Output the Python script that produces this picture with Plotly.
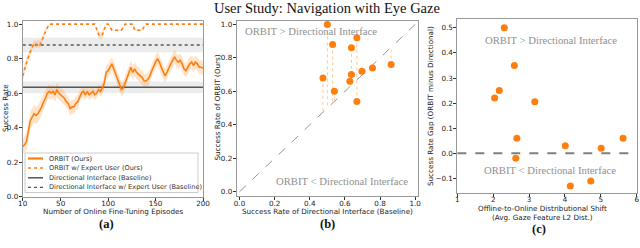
import plotly.graph_objects as go

W, H = 640, 248
ORANGE = "#ff7f0e"
ORANGE_BAND = "rgba(255,127,14,0.22)"
GRAY = "#555555"
GRAY_BAND = "rgba(200,200,200,0.35)"
SANS = "DejaVu Sans"
SERIF = "Liberation Serif"

# ---------------- data (a) ----------------
episodes = [10, 12, 14, 16, 18, 20, 22, 24, 26, 28,
            30, 32, 34, 36, 38, 40, 42, 44, 46, 48,
            50, 52, 54, 56, 58, 60, 62, 64, 66, 68,
            70, 72, 74, 76, 78, 80, 82, 84, 86, 88,
            90, 92, 94, 96, 98, 100, 102, 104, 106, 108,
            110, 112, 114, 116, 118, 120, 122, 124, 126, 128,
            130, 132, 134, 136, 138, 140, 142, 144, 146, 148,
            150, 152, 154, 156, 158, 160, 162, 164, 166, 168,
            170, 172, 174, 176, 178, 180, 182, 184, 186, 188,
            190, 192, 194, 196, 198, 200]
orbit_mean = [0.29, 0.30, 0.32, 0.38, 0.44, 0.46, 0.48, 0.47, 0.48, 0.50,
              0.52, 0.55, 0.57, 0.60, 0.61, 0.60, 0.61, 0.59, 0.62, 0.60,
              0.59, 0.58, 0.57, 0.55, 0.54, 0.51, 0.52, 0.52, 0.54, 0.55,
              0.58, 0.60, 0.61, 0.59, 0.61, 0.59, 0.60, 0.61, 0.59, 0.60,
              0.62, 0.61, 0.63, 0.66, 0.72, 0.73, 0.75, 0.77, 0.74, 0.71,
              0.68, 0.65, 0.62, 0.63, 0.66, 0.70, 0.73, 0.75, 0.72, 0.74,
              0.72, 0.71, 0.70, 0.69, 0.67, 0.67, 0.68, 0.70, 0.73, 0.76,
              0.78, 0.80, 0.78, 0.75, 0.72, 0.70, 0.72, 0.75, 0.77, 0.79,
              0.81, 0.79, 0.78, 0.79, 0.77, 0.74, 0.73, 0.75, 0.77, 0.78,
              0.76, 0.78, 0.77, 0.75, 0.75, 0.745]
orbit_std = [0.04, 0.05, 0.05, 0.05, 0.05, 0.05, 0.05, 0.05, 0.05, 0.05,
             0.05, 0.05, 0.04, 0.04, 0.04, 0.04, 0.04, 0.04, 0.04, 0.04,
             0.04, 0.04, 0.04, 0.04, 0.04, 0.04, 0.04, 0.04, 0.04, 0.04,
             0.03, 0.03, 0.03, 0.03, 0.03, 0.03, 0.03, 0.03, 0.03, 0.03,
             0.03, 0.03, 0.03, 0.04, 0.04, 0.04, 0.04, 0.04, 0.04, 0.04,
             0.04, 0.04, 0.04, 0.04, 0.04, 0.04, 0.04, 0.04, 0.04, 0.04,
             0.04, 0.04, 0.04, 0.04, 0.04, 0.04, 0.04, 0.04, 0.04, 0.04,
             0.04, 0.04, 0.04, 0.04, 0.04, 0.04, 0.04, 0.04, 0.04, 0.04,
             0.04, 0.04, 0.04, 0.04, 0.04, 0.04, 0.04, 0.04, 0.04, 0.04,
             0.04, 0.04, 0.04, 0.04, 0.04, 0.04]
expert_mean = [0.70, 0.74, 0.78, 0.81, 0.84, 0.87, 0.89, 0.88, 0.89, 0.88,
               0.90, 0.93, 0.96, 0.98, 1.0, 1.0, 1.0, 1.0, 1.0, 1.0,
               1.0, 1.0, 1.0, 1.0, 1.0, 1.0, 1.0, 1.0, 1.0, 1.0,
               1.0, 1.0, 1.0, 1.0, 1.0, 1.0, 1.0, 1.0, 1.0, 0.97,
               0.94, 0.93, 0.94, 0.97, 1.0, 1.0, 0.98, 0.965, 0.965, 0.965,
               0.965, 0.965, 0.965, 0.98, 1.0, 1.0, 1.0, 1.0, 1.0, 0.965,
               0.965, 0.965, 0.965, 0.965, 0.985, 1.0, 1.0, 1.0, 1.0, 1.0,
               1.0, 1.0, 1.0, 1.0, 1.0, 1.0, 1.0, 1.0, 1.0, 1.0,
               1.0, 1.0, 1.0, 1.0, 1.0, 1.0, 1.0, 1.0, 1.0, 1.0,
               1.0, 1.0, 1.0, 1.0, 1.0, 1.0]
expert_std = [0.03, 0.03, 0.03, 0.02, 0.02, 0.02, 0.02, 0.02, 0.02, 0.02,
              0.02, 0.02, 0.01, 0.01, 0.0, 0.0, 0.0, 0.0, 0.0, 0.0,
              0.0, 0.0, 0.0, 0.0, 0.0, 0.0, 0.0, 0.0, 0.0, 0.0,
              0.0, 0.0, 0.0, 0.0, 0.0, 0.0, 0.0, 0.0, 0.0, 0.01,
              0.02, 0.02, 0.02, 0.01, 0.0, 0.0, 0.005, 0.005, 0.005, 0.005,
              0.005, 0.005, 0.005, 0.005, 0.0, 0.0, 0.0, 0.0, 0.0, 0.005,
              0.005, 0.005, 0.005, 0.005, 0.005, 0.0, 0.0, 0.0, 0.0, 0.0,
              0.0, 0.0, 0.0, 0.0, 0.0, 0.0, 0.0, 0.0, 0.0, 0.0,
              0.0, 0.0, 0.0, 0.0, 0.0, 0.0, 0.0, 0.0, 0.0, 0.0,
              0.0, 0.0, 0.0, 0.0, 0.0, 0.0]
baseline_mean, baseline_std = 0.634, 0.033
baseline_expert_mean, baseline_expert_std = 0.879, 0.042

# ---------------- data (b) ----------------
directional_rate = [0.50, 0.475, 0.53, 0.54, 0.637, 0.668, 0.637, 0.628, 0.668, 0.697, 0.757, 0.863]
orbit_rate = [1.00, 0.68, 0.88, 0.60, 0.86, 0.92, 0.70, 0.66, 0.54, 0.72, 0.74, 0.76]

# ---------------- data (c) ----------------
dist_shift = [2.31, 3.16, 2.59, 2.66, 2.04, 2.17, 5.62, 4.01, 4.15, 5.01, 2.63, 4.72]
rate_gap = [0.50, 0.205, 0.35, 0.06, 0.22, 0.25, 0.06, 0.03, -0.13, 0.02, -0.02, -0.11]


def px(x):
    return x / W


def py(y):
    return 1 - y / H


fig = go.Figure()


def band(xs, mean, std, color, xa="x", ya="y"):
    up = [m + s for m, s in zip(mean, std)]
    lo = [m - s for m, s in zip(mean, std)]
    fig.add_trace(go.Scatter(x=xs + xs[::-1], y=up + lo[::-1], fill="toself",
                             fillcolor=color, line=dict(width=0), mode="lines",
                             hoverinfo="skip", showlegend=False, xaxis=xa, yaxis=ya))


xr = [episodes[0], episodes[-1]]
band(xr, [baseline_mean] * 2, [baseline_std] * 2, GRAY_BAND)
band(xr, [baseline_expert_mean] * 2, [baseline_expert_std] * 2, GRAY_BAND)
band(episodes, orbit_mean, orbit_std, ORANGE_BAND)
band(episodes, expert_mean, expert_std, ORANGE_BAND)
fig.add_trace(go.Scatter(x=xr, y=[baseline_mean] * 2, mode="lines",
                         line=dict(color=GRAY, width=1.5), showlegend=False))
fig.add_trace(go.Scatter(x=xr, y=[baseline_expert_mean] * 2, mode="lines",
                         line=dict(color=GRAY, width=1.3, dash="dot"), showlegend=False))
fig.add_trace(go.Scatter(x=episodes, y=orbit_mean, mode="lines",
                         line=dict(color=ORANGE, width=1.6), showlegend=False))
fig.add_trace(go.Scatter(x=episodes, y=expert_mean, mode="lines",
                         line=dict(color=ORANGE, width=1.6, dash="dot"), showlegend=False))

# ---- (b) ----
vx, vy = [], []
for a, b in zip(directional_rate, orbit_rate):
    vx += [a, a, None]
    vy += [b, a, None]
fig.add_trace(go.Scatter(x=vx, y=vy, mode="lines", xaxis="x2", yaxis="y2",
                         line=dict(color="rgba(255,127,14,0.45)", width=1, dash="dot"),
                         showlegend=False))
fig.add_trace(go.Scatter(x=[0, 1], y=[0, 1], mode="lines", xaxis="x2", yaxis="y2",
                         line=dict(color="#888888", width=0.9, dash="dash"), showlegend=False))
fig.add_trace(go.Scatter(x=directional_rate, y=orbit_rate, mode="markers", xaxis="x2", yaxis="y2",
                         marker=dict(color=ORANGE, size=7), showlegend=False))

# ---- (c) ----
fig.add_trace(go.Scatter(x=dist_shift, y=rate_gap, mode="markers", xaxis="x3", yaxis="y3",
                         marker=dict(color=ORANGE, size=7), showlegend=False))

axis_common = dict(showline=True, mirror=True, linecolor="#999999", linewidth=1,
                   ticks="outside", ticklen=3, tickcolor="#333333", tickwidth=1,
                   showgrid=False, zeroline=False, automargin=False,
                   tickfont=dict(family=SANS, size=7.2, color="#222222"))
xcommon = dict(axis_common, ticklabelstandoff=-3)
ycommon = dict(axis_common, ticklabelstandoff=-1)

fig.update_layout(
    width=W, height=H, margin=dict(l=0, r=0, t=0, b=0, autoexpand=False),
    paper_bgcolor="white", plot_bgcolor="white", showlegend=False,
    xaxis=dict(domain=[px(22.7), px(203)], range=[10, 200], anchor="y",
               tickvals=[10, 50, 100, 150, 200], **xcommon),
    yaxis=dict(domain=[py(196.5), py(20.7)], range=[0, 1.02], anchor="x",
               tickvals=[0, 0.2, 0.4, 0.6, 0.8, 1.0], tickformat=".1f", **ycommon),
    xaxis2=dict(domain=[px(236.7), px(418)], range=[-0.016, 1.016], anchor="y2",
                tickvals=[0, 0.2, 0.4, 0.6, 0.8, 1.0], tickformat=".1f", **xcommon),
    yaxis2=dict(domain=[py(196), py(20.7)], range=[-0.025, 1.022], anchor="x2",
                tickvals=[0, 0.2, 0.4, 0.6, 0.8, 1.0], tickformat=".1f", **ycommon),
    xaxis3=dict(domain=[px(457.3), px(636.7)], range=[1, 6], anchor="y3",
                tickvals=[1, 2, 3, 4, 5, 6], **xcommon),
    yaxis3=dict(domain=[py(192.7), py(19.3)], range=[-0.157, 0.534], anchor="x3",
                tickvals=[-0.1, 0, 0.1, 0.2, 0.3, 0.4, 0.5], tickformat=".1f", **ycommon),
)

shapes = []
shapes.append(dict(type="line", xref="x3 domain", yref="y3", x0=0, x1=1, y0=0, y1=0,
                   line=dict(color="#808080", width=2, dash="dash")))
shapes.append(dict(type="rect", xref="paper", yref="paper",
                   x0=px(25), x1=px(198), y0=py(192.5), y1=py(153),
                   fillcolor="rgba(255,255,255,0.85)", line=dict(color="#cccccc", width=1)))
legend_items = [
    ("ORBIT (Ours)", ORANGE, 2.2, "solid"),
    ("ORBIT w/ Expert User (Ours)", ORANGE, 1.6, "dot"),
    ("Directional Interface (Baseline)", GRAY, 1.5, "solid"),
    ("Directional Interface w/ Expert User (Baseline)", GRAY, 1.2, "dot"),
]
rows_y = [158.5, 168, 177.8, 187.3]
annotations = []
for (label, col, lw, dash), ry in zip(legend_items, rows_y):
    shapes.append(dict(type="line", xref="paper", yref="paper", x0=px(28), x1=px(43),
                       y0=py(ry), y1=py(ry), line=dict(color=col, width=lw, dash=dash)))
    annotations.append(dict(text=label, xref="paper", yref="paper", x=px(46.5), y=py(ry),
                            xanchor="left", yanchor="middle", showarrow=False,
                            font=dict(family=SANS, size=6.6, color="#333333")))


def ann(text, x, y, size, family=SANS, color="#222222", angle=0, **kw):
    annotations.append(dict(text=text, xref="paper", yref="paper", x=px(x), y=py(y),
                            xanchor="center", yanchor="middle", showarrow=False,
                            textangle=angle, font=dict(family=family, size=size, color=color), **kw))


ann("User Study: Navigation with Eye Gaze", 327, 7.5, 14.5, family=SERIF, color="#111111")
ann("Success Rate", 5, 108, 7.2, angle=-90)
ann("Number of Online Fine-Tuning Episodes", 113, 211, 7.2)
ann("Success Rate of ORBIT (Ours)", 216.5, 108, 7.2, angle=-90)
ann("Success Rate of Directional Interface (Baseline)", 327.5, 211, 7.2)
ann("Success Rate Gap (ORBIT minus Directional)", 430, 106, 7.2, angle=-90)
ann("Offline-to-Online Distributional Shift", 542.5, 208.5, 7.2)
ann("(Avg. Gaze Feature L2 Dist.)", 542.5, 217, 7.2)
ann("ORBIT &gt; Directional Interface", 311, 31, 10.7, family=SERIF, color="#909090")
ann("ORBIT &lt; Directional Interface", 342, 181, 10.7, family=SERIF, color="#909090")
ann("ORBIT &gt; Directional Interface", 551, 39.5, 10.7, family=SERIF, color="#909090")
ann("ORBIT &lt; Directional Interface", 550, 170, 10.7, family=SERIF, color="#909090")
ann("<b>(a)</b>", 106, 223.5, 12.5, family=SERIF, color="#111111")
ann("<b>(b)</b>", 327, 223.5, 12.5, family=SERIF, color="#111111")
ann("<b>(c)</b>", 538.5, 228.5, 12.5, family=SERIF, color="#111111")
annotations.append(dict(
    text="Fig. 4: (a) The role offline pretraining and online fine-tuning: ORBIT (solid orange) learns an interface that outperforms the default interface (solid gray)",
    xref="paper", yref="paper", x=px(1), y=py(245), xanchor="left", yanchor="top",
    showarrow=False, font=dict(family=SERIF, size=11.5, color="#111111")))

fig.update_layout(shapes=shapes, annotations=annotations)
fig.write_html("out.html", config={"displayModeBar": False},
               post_script="document.body.style.margin='0';document.body.style.overflow='hidden';")
